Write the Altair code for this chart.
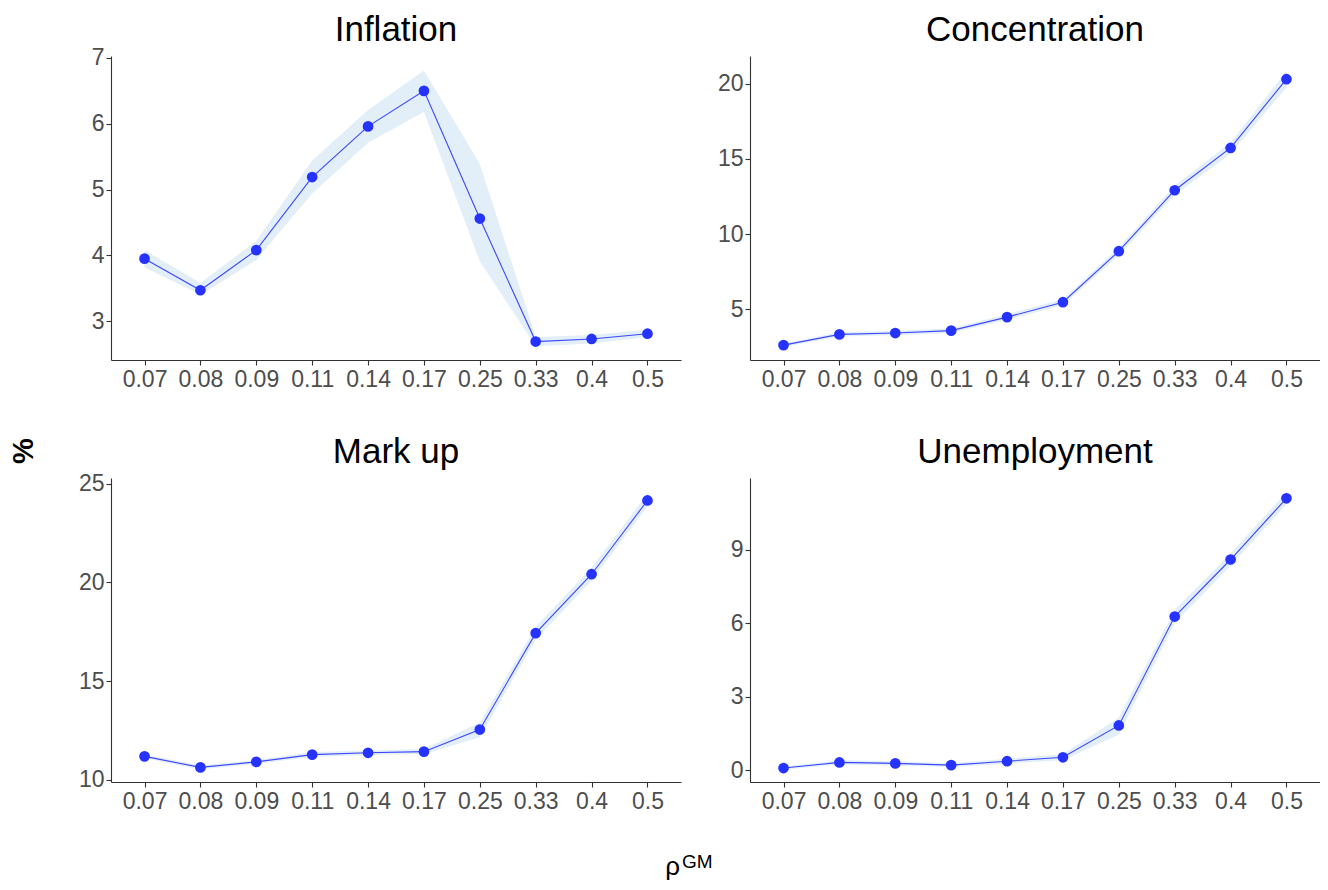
import altair as alt
import pandas as pd

x_labels = ["0.07", "0.08", "0.09", "0.11", "0.14", "0.17", "0.25", "0.33", "0.4", "0.5"]

inflation_mean = [3.95, 3.47, 4.08, 5.19, 5.96, 6.50, 4.56, 2.69, 2.73, 2.81]
inflation_lo = [3.82, 3.40, 3.93, 4.94, 5.71, 6.18, 3.91, 2.62, 2.66, 2.76]
inflation_hi = [4.08, 3.58, 4.22, 5.44, 6.21, 6.81, 5.39, 2.76, 2.79, 2.87]

concentration_mean = [2.63, 3.34, 3.43, 3.59, 4.49, 5.48, 8.87, 12.92, 15.73, 20.30]
concentration_lo = [2.50, 3.20, 3.28, 3.43, 4.30, 5.28, 8.60, 12.60, 15.35, 19.75]
concentration_hi = [2.76, 3.48, 3.58, 3.75, 4.68, 5.68, 9.12, 13.22, 16.10, 20.85]

markup_mean = [11.18, 10.62, 10.90, 11.27, 11.36, 11.42, 12.54, 17.43, 20.42, 24.16]
markup_lo = [11.08, 10.52, 10.80, 11.15, 11.25, 11.30, 12.15, 17.10, 20.10, 23.85]
markup_hi = [11.28, 10.72, 11.00, 11.40, 11.48, 11.55, 12.90, 17.75, 20.75, 24.50]

unemp_mean = [0.08, 0.31, 0.27, 0.20, 0.36, 0.52, 1.82, 6.27, 8.60, 11.10]
unemp_lo = [0.02, 0.22, 0.18, 0.12, 0.26, 0.40, 1.45, 6.00, 8.35, 10.85]
unemp_hi = [0.14, 0.40, 0.36, 0.28, 0.46, 0.64, 2.15, 6.55, 8.85, 11.35]

FONT = "Liberation Sans"
W = 570
H = 304


def text_layer(txt, x, y, size, **kw):
    return alt.Chart(pd.DataFrame({"t": [txt]})).mark_text(
        font=FONT, fontSize=size, color="black", **kw).encode(
        x=alt.value(x), y=alt.value(y), text="t:N")


def panel(title, mean, lo, hi, domain, ticks, extra=None):
    df = pd.DataFrame({"x": x_labels, "mean": mean, "lo": lo, "hi": hi})
    xenc = alt.X("x:N", sort=x_labels, title=None,
                 scale=alt.Scale(type="point", padding=0.6),
                 axis=alt.Axis(labelAngle=0))
    yscale = alt.Scale(domain=domain, nice=False, zero=False)
    base = alt.Chart(df).encode(x=xenc)
    band = base.mark_area(color="#e3eff8", opacity=1).encode(
        y=alt.Y("lo:Q", scale=yscale, title=None,
                axis=alt.Axis(values=ticks, format="d")),
        y2="hi:Q")
    line = base.mark_line(color="#3d46ff", strokeWidth=1.1).encode(
        y=alt.Y("mean:Q", scale=yscale))
    pts = base.mark_circle(color="#2633ff", opacity=1, size=115).encode(
        y=alt.Y("mean:Q", scale=yscale))
    ttl = text_layer(title, W / 2, -15, 35, align="center", baseline="alphabetic")
    layers = [band, line, pts, ttl]
    if extra:
        layers += extra
    return alt.layer(*layers).properties(width=W, height=H)


lab_pct = text_layer("%", -87, -27, 29, fontWeight="bold", angle=270,
                     align="center", baseline="middle")
lab_rho = text_layer("ρ", 569, 397, 26, align="right", baseline="alphabetic")
lab_gm = text_layer("GM", 571, 390, 19, align="left", baseline="alphabetic")

p1 = panel("Inflation", inflation_mean, inflation_lo, inflation_hi, [2.41, 7.03], [3, 4, 5, 6, 7])
p2 = panel("Concentration", concentration_mean, concentration_lo, concentration_hi, [1.64, 21.84], [5, 10, 15, 20])
p3 = panel("Mark up", markup_mean, markup_lo, markup_hi, [9.88, 25.3], [10, 15, 20, 25],
           extra=[lab_pct, lab_rho, lab_gm])
p4 = panel("Unemployment", unemp_mean, unemp_lo, unemp_hi, [-0.49, 11.93], [0, 3, 6, 9])

chart = alt.concat(p1, p2, p3, p4, columns=2, bounds="flush",
                   spacing={"row": 118, "column": 69}).properties(
    padding={"left": 2, "top": 5, "right": 0, "bottom": 0},
    background="white"
).configure_view(stroke=None).configure_axis(
    grid=False, labelFont=FONT, labelFontSize=23, labelColor="#4d4d4d",
    tickColor="#333333", tickSize=5, tickWidth=1.1, domainColor="#333333",
    domainWidth=1.1, labelPadding=2
).configure_axisX(labelPadding=3)

chart.save("out.html", embed_options={"renderer": "svg", "actions": False})
